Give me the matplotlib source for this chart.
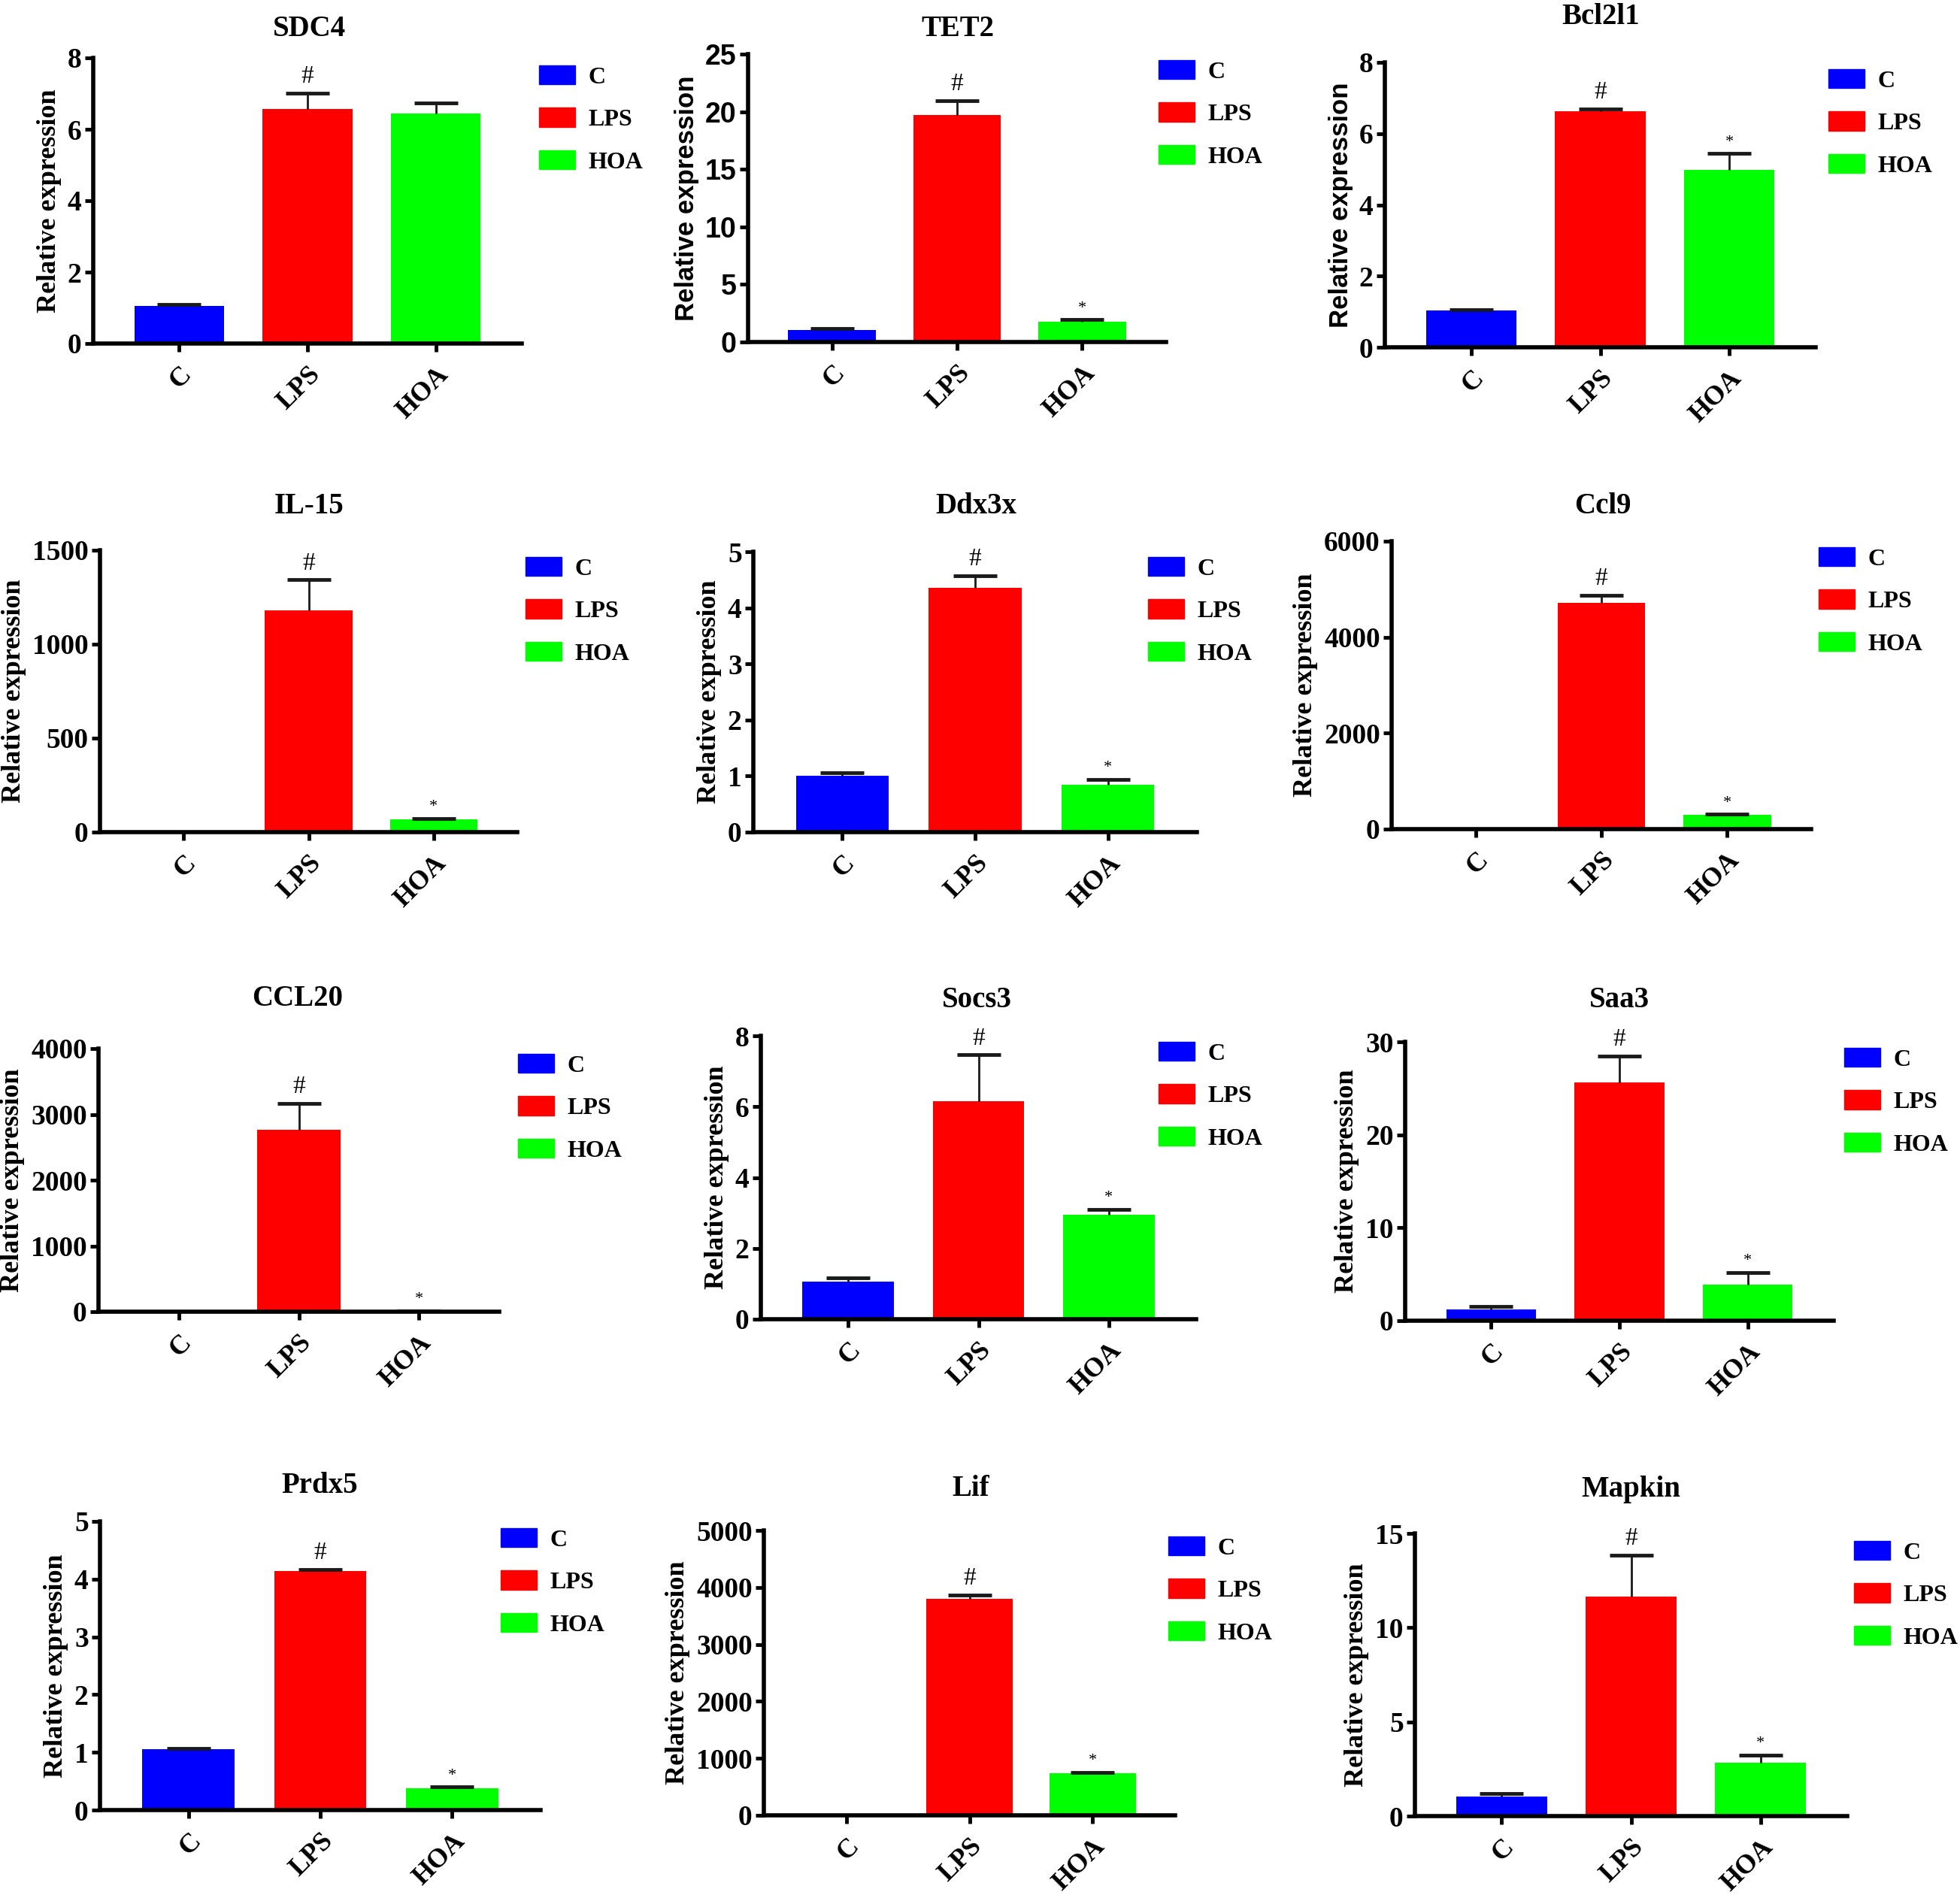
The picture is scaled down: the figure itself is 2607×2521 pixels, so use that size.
import matplotlib.pyplot as plt
from matplotlib.patches import Patch
from matplotlib.ticker import MultipleLocator
import numpy as np

plt.rcParams['font.family'] = ['Liberation Serif', 'DejaVu Serif']
plt.rcParams['font.weight'] = 'bold'
plt.rcParams['axes.labelweight'] = 'bold'

# --- data ---
groups = ["C", "LPS", "HOA"]
colors = ["#0000FF", "#FF0000", "#00FF00"]

genes = ["SDC4", "TET2", "Bcl2l1", "IL-15", "Ddx3x", "Ccl9",
         "CCL20", "Socs3", "Saa3", "Prdx5", "Lif", "Mapkin"]

sdc4_mean = [1.05, 6.57, 6.45]
sdc4_err = [0.04, 0.45, 0.29]
tet2_mean = [1.07, 19.7, 1.75]
tet2_err = [0.13, 1.25, 0.2]
bcl2l1_mean = [1.03, 6.63, 4.99]
bcl2l1_err = [0.03, 0.06, 0.45]
il15_mean = [1.0, 1178, 69]
il15_err = [0.1, 164, 4]
ddx3x_mean = [1.0, 4.35, 0.85]
ddx3x_err = [0.06, 0.22, 0.09]
ccl9_mean = [1.0, 4710, 300]
ccl9_err = [0.1, 160, 12]
ccl20_mean = [1.0, 2763, 10]
ccl20_err = [0.1, 406, 2]
socs3_mean = [1.06, 6.16, 2.96]
socs3_err = [0.1, 1.3, 0.14]
saa3_mean = [1.18, 25.6, 3.87]
saa3_err = [0.37, 2.85, 1.33]
prdx5_mean = [1.05, 4.14, 0.38]
prdx5_err = [0.02, 0.03, 0.02]
lif_mean = [1.0, 3794, 742]
lif_err = [0.1, 73, 10]
mapkin_mean = [1.03, 11.64, 2.84]
mapkin_err = [0.18, 2.21, 0.41]

means = [sdc4_mean, tet2_mean, bcl2l1_mean, il15_mean, ddx3x_mean, ccl9_mean,
         ccl20_mean, socs3_mean, saa3_mean, prdx5_mean, lif_mean, mapkin_mean]
errs = [sdc4_err, tet2_err, bcl2l1_err, il15_err, ddx3x_err, ccl9_err,
        ccl20_err, socs3_err, saa3_err, prdx5_err, lif_err, mapkin_err]

y_max = [8, 25, 8, 1500, 5, 6000, 4000, 8, 30, 5, 5000, 15]
y_step = [2, 5, 2, 500, 1, 2000, 1000, 2, 10, 1, 1000, 5]
marks = [["", "#", ""]] + [["", "#", "*"]] * 11

# --- layout in pixels: axes (left, right, top, bottom), title (x, y), legend patch (left, y of first row)
W, H = 2607, 2521
axes_px = [(124, 694, 77, 457), (995, 1551, 72, 455), (1842, 2415, 83, 462),
           (133, 688, 732, 1107), (1002, 1592, 734, 1107), (1851, 2409, 720, 1103),
           (131, 664, 1395, 1745), (1012, 1591, 1378, 1755), (1869, 2439, 1386, 1757),
           (133, 719, 2024, 2408), (1016, 1563, 2036, 2415), (1882, 2457, 2040, 2416)]
title_px = [(411, 38), (1274, 38), (2129, 23),
            (411, 673), (1298, 673), (2132, 673),
            (396, 1328), (1299, 1331), (2154, 1331),
            (425, 1977), (1291, 1981), (2169, 1981)]
legend_px = [(717, 105), (1541, 98), (2432, 110),
             (699, 759), (1527, 759), (2419, 746),
             (689, 1420), (1541, 1404), (2453, 1412),
             (666, 2051), (1554, 2062), (2466, 2068)]
sans_label = [False, True, True, False, False, False,
              False, False, False, False, False, False]

fig = plt.figure(figsize=(W / 100, H / 100), dpi=100)
x = np.arange(len(groups))

for i, gene in enumerate(genes):
    l, r, t, b = axes_px[i]
    ax = fig.add_axes([l / W, 1 - b / H, (r - l) / W, (b - t) / H])
    m = np.array(means[i])
    e = np.array(errs[i])
    ax.bar(x, m, width=0.7, color=colors, zorder=1)
    eb = ax.errorbar(x, m, yerr=[np.zeros_like(e), e], fmt='none', ecolor='#1a1a1a',
                     elinewidth=2, capsize=21, capthick=3.5, zorder=2)
    # only the upper cap is drawn (Prism style)
    eb[1][0].set_visible(False)
    for j, mk in enumerate(marks[i]):
        if mk:
            ax.annotate(mk, (x[j], m[j] + e[j]), xytext=(0, 5 if mk == "#" else 4),
                        textcoords='offset points', ha='center', va='bottom',
                        fontsize=24 if mk == "#" else 16, fontweight='normal')

    ax.set_xlim(-0.67, 2.67)
    ax.set_ylim(0, y_max[i])
    ax.yaxis.set_major_locator(MultipleLocator(y_step[i]))
    ax.set_xticks(x)
    ax.set_xticklabels(groups, rotation=45, ha='right', rotation_mode='anchor')
    for s in ['top', 'right']:
        ax.spines[s].set_visible(False)
    for s in ['left', 'bottom']:
        ax.spines[s].set_linewidth(4)
    ax.tick_params(axis='both', length=8, width=3.5, labelsize=27, pad=3)
    ax.tick_params(axis='x', labelsize=26, pad=10)
    for lab in ax.get_xticklabels() + ax.get_yticklabels():
        lab.set_fontweight('bold')

    if sans_label[i]:
        ax.set_ylabel("Relative expression", fontsize=25, labelpad=6,
                      family='Liberation Sans', fontweight='bold')
    else:
        ax.set_ylabel("Relative expression", fontsize=26, labelpad=6, fontweight='bold')
    if i == 1:
        for lab in ax.get_yticklabels():
            lab.set_family('Liberation Sans')

    tx, ty = title_px[i]
    fig.text(tx / W, 1 - ty / H, gene, ha='center', va='center', fontsize=28,
             fontweight='bold')

    lx, ly = legend_px[i]
    handles = [Patch(color=c) for c in colors]
    ax.legend(handles, groups, loc='upper left',
              bbox_to_anchor=(lx / W, 1 - (ly - 18) / H), bbox_transform=fig.transFigure,
              frameon=False, borderpad=0, borderaxespad=0, handlelength=1.5,
              handleheight=0.85, handletextpad=0.55, labelspacing=0.8,
              prop={'size': 23, 'weight': 'bold'})

fig.savefig("out.png", dpi=100, facecolor='white')
